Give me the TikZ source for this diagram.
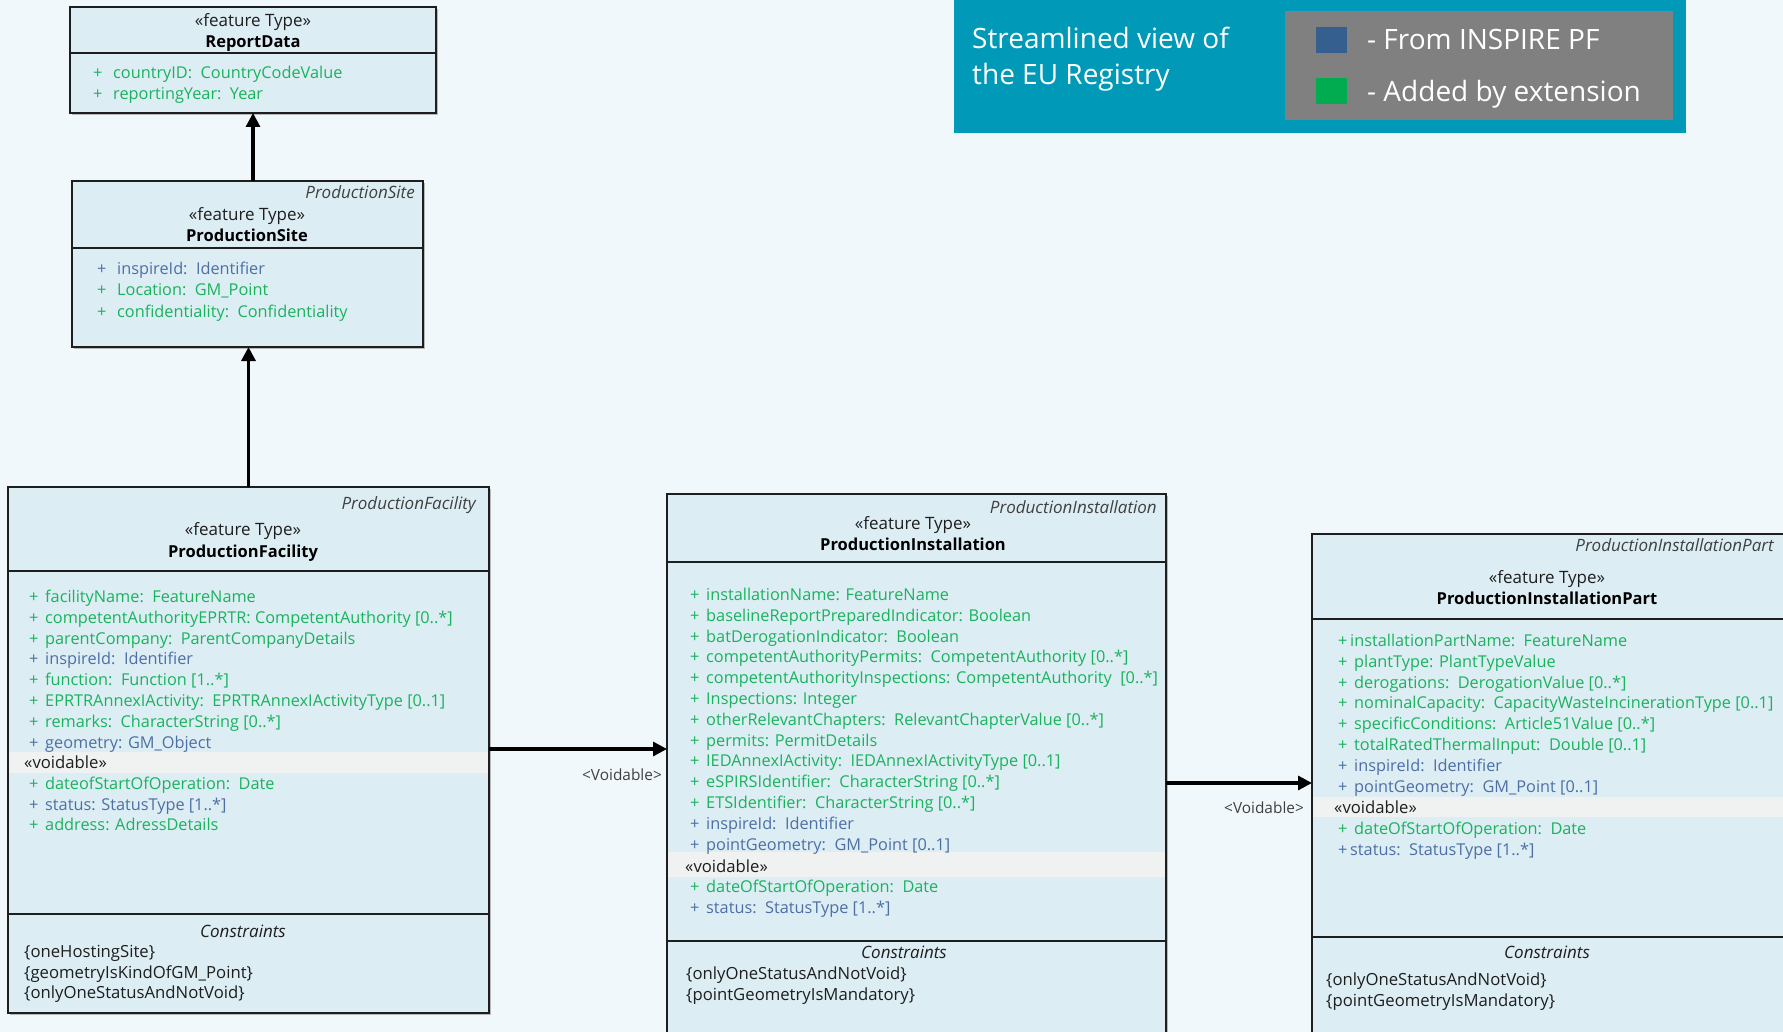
\documentclass[tikz,border=0pt]{standalone}
\usepackage{fontspec}
\setmainfont{Open Sans}
\usetikzlibrary{arrows.meta,shadows}

\definecolor{bgc}{HTML}{F1F8FB}
\definecolor{boxfill}{HTML}{DCEDF4}
\definecolor{attrG}{HTML}{1BB25E}
\definecolor{attrB}{HTML}{4E6FA6}
\definecolor{voidband}{HTML}{F0F1F1}
\definecolor{legendteal}{HTML}{0099B8}
\definecolor{legendgrey}{HTML}{808080}
\definecolor{sqblue}{HTML}{355F8F}
\definecolor{sqgreen}{HTML}{00AC4F}
\definecolor{inkc}{HTML}{1E1E1E}

\newcommand{\attrfont}{\fontsize{16.3}{19}\selectfont}
\newcommand{\headfont}{\fontsize{17}{19}\selectfont}

\tikzset{
  classbox/.style={draw=inkc, line width=1.3pt, fill=boxfill, anchor=north west,
    inner sep=0pt, outer sep=0pt,
    drop shadow={shadow xshift=2pt, shadow yshift=-2pt, opacity=0.25, fill=black}},
  sepline/.style={draw=inkc, line width=1.2pt},
  band/.style={fill=voidband, draw=none},
  txtbase/.style={inner sep=0pt, yshift=-1.5pt},
  stereo/.style={txtbase, font=\headfont, text=inkc, anchor=base},
  cname/.style={txtbase, font=\fontsize{16.5}{19}\selectfont\bfseries, text=black, anchor=base},
  iname/.style={txtbase, font=\headfont\itshape, text=inkc!85, anchor=base east},
  attr/.style={txtbase, font=\attrfont, anchor=base west},
  constr/.style={txtbase, font=\fontsize{16.7}{19}\selectfont, text=inkc, anchor=base west},
  consttitle/.style={txtbase, font=\headfont\itshape, text=inkc, anchor=base},
  assoc/.style={line width=3.2pt, draw=black, -{Triangle[length=14pt,width=14pt]}},
  rolelabel/.style={txtbase, font=\fontsize{15.4}{17}\selectfont, text=inkc!85, anchor=base},
  legendtext/.style={font=\fontsize{28}{32}\selectfont, text=white, inner sep=0pt, anchor=base west},
}

\begin{document}
\begin{tikzpicture}[x=1pt, y=-1pt]
\useasboundingbox (0,0) rectangle (1783,1032);
\fill[bgc] (0,0) rectangle (1783,1032);

% ---------- legend ----------
\fill[legendteal] (954,-2) rectangle (1686,133);
\fill[legendgrey] (1285,11) rectangle (1673,120);
\fill[sqblue] (1316,27) rectangle (1347,53);
\fill[sqgreen] (1316,78) rectangle (1347,104);
\node[legendtext] (lg1) at (972,49) {Streamlined view of};
\node[legendtext] (lg2) at (972,85) {the EU Registry};
\node[legendtext] (lg3) at (1367,50) {- From INSPIRE PF};
\node[legendtext] (lg4) at (1367,102) {- Added by extension};

% ---------- ReportData ----------
\node[classbox, minimum width=366pt, minimum height=106pt] (rd) at (70,7) {};
\draw[sepline] (70,53) -- (436,53);
\node[stereo] (rd-st) at (253,25) {«feature Type»};
\node[cname] (rd-nm) at (253,46) {ReportData};
\foreach \c/\t [count=\i] in {attrG/{countryID:\ \ CountryCodeValue}, attrG/{reportingYear:\ \ Year}}
  \node[attr, text=\c] (rd-a\i) at (93,{77+(\i-1)*21}) {\makebox[20pt][l]{+}\t};

% ---------- ProductionSite ----------
\node[classbox, minimum width=351pt, minimum height=166pt] (ps) at (72,181) {};
\draw[sepline] (72,248) -- (423,248);
\node[iname] (ps-in) at (415,197) {ProductionSite};
\node[stereo] (ps-st) at (247,219) {«feature Type»};
\node[cname] (ps-nm) at (247,240) {ProductionSite};
\foreach \c/\t [count=\i] in {attrB/{inspireId:\ \ Identifier}, attrG/{Location:\ \ GM\_Point}, attrG/{confidentiality:\ \ Confidentiality}}
  \node[attr, text=\c] (ps-a\i) at (97,{273+(\i-1)*21.3}) {\makebox[20pt][l]{+}\t};

% ---------- ProductionFacility ----------
\node[classbox, minimum width=481pt, minimum height=526pt] (pf) at (8,487) {};
\fill[band] (8.6,752) rectangle (488.4,773);
\draw[sepline] (8,571) -- (489,571);
\draw[sepline] (8,914) -- (489,914);
\node[iname] (pf-in) at (476,508) {ProductionFacility};
\node[stereo] (pf-st) at (243,534) {«feature Type»};
\node[cname] (pf-nm) at (243,556) {ProductionFacility};
\foreach \c/\t [count=\i] in {
    attrG/{facilityName:\ \ FeatureName},
    attrG/{competentAuthorityEPRTR: CompetentAuthority [0..*]},
    attrG/{parentCompany:\ \ ParentCompanyDetails},
    attrB/{inspireId:\ \ Identifier},
    attrG/{function:\ \ Function [1..*]},
    attrG/{EPRTRAnnexIActivity:\ \ EPRTRAnnexIActivityType [0..1]},
    attrG/{remarks:\ \ CharacterString [0..*]},
    attrB/{geometry: GM\_Object}}
  \node[attr, text=\c] (pf-a\i) at (29,{601+(\i-1)*20.8}) {\makebox[16pt][l]{+}\t};
\node[constr] (pf-vd) at (24,767) {«voidable»};
\foreach \c/\t [count=\i] in {
    attrG/{dateofStartOfOperation:\ \ Date},
    attrB/{status: StatusType [1..*]},
    attrG/{address: AdressDetails}}
  \node[attr, text=\c] (pf-v\i) at (29,{788+(\i-1)*20.6}) {\makebox[16pt][l]{+}\t};
\node[consttitle] (pf-ct) at (243,936) {Constraints};
\foreach \t [count=\i] in {{\{oneHostingSite\}}, {\{geometryIsKindOfGM\_Point\}}, {\{onlyOneStatusAndNotVoid\}}}
  \node[constr] (pf-c\i) at (24,{956+(\i-1)*20.5}) {\t};

% ---------- ProductionInstallation ----------
\node[classbox, minimum width=499pt, minimum height=560pt] (pi) at (667,494) {};
\fill[band] (667.6,852) rectangle (1165.4,877);
\draw[sepline] (667,562) -- (1166,562);
\draw[sepline] (667,941) -- (1166,941);
\node[iname] (pi-in) at (1157,512) {ProductionInstallation};
\node[stereo] (pi-st) at (913,528) {«feature Type»};
\node[cname] (pi-nm) at (913,549) {ProductionInstallation};
\foreach \c/\t [count=\i] in {
    attrG/{installationName: FeatureName},
    attrG/{baselineReportPreparedIndicator: Boolean},
    attrG/{batDerogationIndicator:\ \ Boolean},
    attrG/{competentAuthorityPermits:\ \ CompetentAuthority [0..*]},
    attrG/{competentAuthorityInspections: CompetentAuthority\ \ [0..*]},
    attrG/{Inspections: Integer},
    attrG/{otherRelevantChapters:\ \ RelevantChapterValue [0..*]},
    attrG/{permits: PermitDetails},
    attrG/{IEDAnnexIActivity:\ \ IEDAnnexIActivityType [0..1]},
    attrG/{eSPIRSIdentifier:\ \ CharacterString [0..*]},
    attrG/{ETSIdentifier:\ \ CharacterString [0..*]},
    attrB/{inspireId:\ \ Identifier},
    attrB/{pointGeometry:\ \ GM\_Point [0..1]}}
  \node[attr, text=\c] (pi-a\i) at (690,{599+(\i-1)*20.8}) {\makebox[16pt][l]{+}\t};
\node[constr] (pi-vd) at (685,871) {«voidable»};
\foreach \c/\t [count=\i] in {
    attrG/{dateOfStartOfOperation:\ \ Date},
    attrB/{status:\ \ StatusType [1..*]}}
  \node[attr, text=\c] (pi-v\i) at (690,{891+(\i-1)*21}) {\makebox[16pt][l]{+}\t};
\node[consttitle] (pi-ct) at (904,957) {Constraints};
\foreach \t [count=\i] in {{\{onlyOneStatusAndNotVoid\}}, {\{pointGeometryIsMandatory\}}}
  \node[constr] (pi-c\i) at (686,{978+(\i-1)*21}) {\t};

% ---------- ProductionInstallationPart ----------
\node[classbox, minimum width=485pt, minimum height=520pt] (pip) at (1312,534) {};
\fill[band] (1312.6,797) rectangle (1797,817);
\draw[sepline] (1312,619) -- (1797,619);
\draw[sepline] (1312,937) -- (1797,937);
\node[iname] (pip-in) at (1774,550) {ProductionInstallationPart};
\node[stereo] (pip-st) at (1547,582) {«feature Type»};
\node[cname] (pip-nm) at (1547,603) {ProductionInstallationPart};
\foreach \o/\c/\t [count=\i] in {
    12/attrG/{installationPartName:\ \ FeatureName},
    16/attrG/{plantType: PlantTypeValue},
    16/attrG/{derogations:\ \ DerogationValue [0..*]},
    16/attrG/{nominalCapacity:\ \ CapacityWasteIncinerationType [0..1]},
    16/attrG/{specificConditions:\ \ Article51Value [0..*]},
    16/attrG/{totalRatedThermalInput:\ \ Double [0..1]},
    16/attrB/{inspireId:\ \ Identifier},
    16/attrB/{pointGeometry:\ \ GM\_Point [0..1]}}
  \node[attr, text=\c] (pip-a\i) at (1338,{645+(\i-1)*20.8}) {\makebox[\o pt][l]{+}\t};
\node[constr] (pip-vd) at (1334,812) {«voidable»};
\node[attr, text=attrG] (pip-v1) at (1338,833) {\makebox[16pt][l]{+}dateOfStartOfOperation:\ \ Date};
\node[attr, text=attrB] (pip-v2) at (1338,854) {\makebox[12pt][l]{+}status:\ \ StatusType [1..*]};
\node[consttitle] (pip-ct) at (1547,957) {Constraints};
\foreach \t [count=\i] in {{\{onlyOneStatusAndNotVoid\}}, {\{pointGeometryIsMandatory\}}}
  \node[constr] (pip-c\i) at (1326,{984+(\i-1)*21}) {\t};

% ---------- connectors ----------
\draw[assoc] (ps.north -| rd.south) -- (rd.south);
\draw[assoc] (pf.north) -- (pf.north |- ps.south);
\coordinate (v1) at (0,749);
\coordinate (v2) at (0,783);
\draw[assoc] (v1 -| pf.east) -- (v1 -| pi.west);
\draw[assoc] (v2 -| pi.east) -- (v2 -| pip.west);
\node[rolelabel] (r1) at (622,779) {<Voidable>};
\node[rolelabel] (r2) at (1264,812) {<Voidable>};
\end{tikzpicture}
\end{document}
